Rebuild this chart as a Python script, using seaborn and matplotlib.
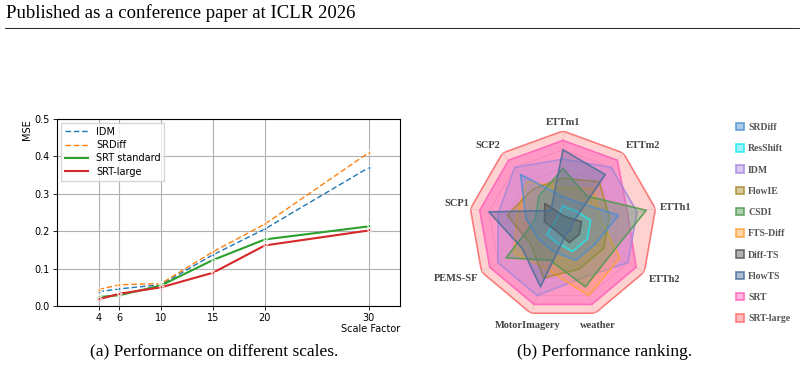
import numpy as np
import pandas as pd
import matplotlib
matplotlib.use("Agg")
import matplotlib.pyplot as plt
from matplotlib.lines import Line2D
from matplotlib.patches import Patch
import seaborn as sns

# ---- data: (a) MSE vs scale factor ----
scales = [4, 6, 10, 15, 20, 30]
mse_idm = [0.038, 0.046, 0.057, 0.137, 0.206, 0.370]
mse_srdiff = [0.044, 0.057, 0.060, 0.145, 0.219, 0.410]
mse_srt = [0.024, 0.029, 0.055, 0.123, 0.178, 0.213]
mse_srt_large = [0.018, 0.033, 0.050, 0.089, 0.162, 0.202]

# ---- data: (b) ranking radar ----
datasets = ['ETTm1', 'ETTm2', 'ETTh1', 'ETTh2', 'weather',
            'MotorImagery', 'PEMS-SF', 'SCP1', 'SCP2']
rank_srdiff = [3, 3, 6, 4, 4, 3, 3, 4, 7]
rank_resshift = [2, 2, 3, 3, 3, 2, 2, 1, 1]
rank_idm = [7, 8, 8, 8, 6, 8, 8, 7, 8]
rank_flowie = [5, 6, 5, 5, 5, 6, 4, 6, 5]
rank_csdi = [6, 4, 9, 6, 7, 4, 7, 3, 4]
rank_ftsdiff = [4, 5, 4, 7, 8, 5, 6, 5, 6]
rank_difftS = [1, 1, 2, 2, 2, 1, 1, 2, 3]
rank_flowts = [8, 7, 1, 1, 1, 7, 5, 8, 2]
rank_srt = [9, 9, 7, 9, 9, 9, 9, 9, 9]
rank_srt_large = [10, 10, 10, 10, 10, 10, 10, 10, 10]

radar_methods = ['SRDiff', 'ResShift', 'IDM', 'FlowIE', 'CSDI',
                 'FTS-Diff', 'Diff-TS', 'FlowTS', 'SRT', 'SRT-large']
radar_ranks = [rank_srdiff, rank_resshift, rank_idm, rank_flowie, rank_csdi,
               rank_ftsdiff, rank_difftS, rank_flowts, rank_srt, rank_srt_large]
radar_colors = ['#4f8fce', '#22e6ee', '#a888dc', '#a88a2e', '#4e9a4e',
                '#ffa23a', '#555555', '#4a6e9a', '#ff5fba', '#ff6b6b']
# drawing order, bottom to top
draw_order = ['SRT-large', 'SRT', 'IDM', 'FTS-Diff', 'FlowIE', 'CSDI',
              'SRDiff', 'ResShift', 'Diff-TS', 'FlowTS']

fig = plt.figure(figsize=(8.04, 3.67), dpi=100)

# header
fig.text(0.008, 0.965, 'Published as a conference paper at ICLR 2026',
         family='Liberation Serif', fontsize=13.5, va='center', ha='left')
fig.add_artist(Line2D([0.006, 0.994], [0.925, 0.925], color='black', lw=0.6))

# ---- (a) line chart ----
ax = fig.add_axes([0.0709, 0.166, 0.4266, 0.510])
df = pd.DataFrame({
    'Scale Factor': scales * 4,
    'MSE': mse_idm + mse_srdiff + mse_srt + mse_srt_large,
    'Method': ['IDM'] * 6 + ['SRDiff'] * 6 + ['SRT standard'] * 6 + ['SRT-large'] * 6,
})
styles = {
    'IDM': ('tab:blue', (4, 2), 1.0),
    'SRDiff': ('tab:orange', (4, 2), 1.0),
    'SRT standard': ('tab:green', '', 1.5),
    'SRT-large': ('tab:red', '', 1.5),
}
for name, (col, dash, lw) in styles.items():
    sub = df[df['Method'] == name]
    sns.lineplot(data=sub, x='Scale Factor', y='MSE', ax=ax, color=col,
                 lw=lw, dashes=False, label=name, marker='*', markersize=4,
                 markeredgewidth=0.5)
    if dash:
        ax.lines[-1].set_dashes(dash)
ax.set_xlim(0, 33)
ax.set_ylim(0, 0.5)
ax.set_xticks(scales)
ax.set_yticks([0.0, 0.1, 0.2, 0.3, 0.4, 0.5])
ax.grid(True, color='#b0b0b0', lw=0.8)
ax.tick_params(labelsize=7, length=3, width=0.6, pad=2)
ax.set_xlabel('Scale Factor', fontsize=7, loc='right', labelpad=1)
ax.set_ylabel('MSE', fontsize=7, loc='top', labelpad=2)
for s in ax.spines.values():
    s.set_linewidth(0.8)
leg = ax.legend(loc='upper left', fontsize=7, handlelength=2.4,
                borderaxespad=0.4, labelspacing=0.35, fancybox=False,
                edgecolor='#cccccc')
for h in leg.get_lines():
    h.set_marker('')

# ---- (b) radar chart ----
rax = fig.add_axes([0.5833, 0.131, 0.2338, 0.512], projection='polar')
n = len(datasets)
angles = np.pi / 2 - np.arange(n) * 2 * np.pi / n
ang_closed = np.append(angles, angles[0])
rax.set_ylim(0, 10)
rax.set_xticks([])
rax.set_yticks([])
rax.grid(False)
rax.spines['polar'].set_visible(False)
# polygon grid
for lvl in [2, 4, 6, 8, 10]:
    rax.plot(ang_closed, [lvl] * (n + 1), color='#cfcfcf', lw=0.5, zorder=0)
for a in angles:
    rax.plot([a, a], [0, 10], color='#d8d8d8', lw=0.4, zorder=0)

alphas = {'SRT': 0.5, 'SRT-large': 0.3, 'Diff-TS': 0.45, 'ResShift': 0.2}
for z, name in enumerate(draw_order):
    i = radar_methods.index(name)
    vals = radar_ranks[i] + [radar_ranks[i][0]]
    col = radar_colors[i]
    rax.fill(ang_closed, vals, color=col, alpha=alphas.get(name, 0.32),
             lw=0, zorder=1 + z)
    rax.plot(ang_closed, vals, color=col, alpha=0.85, lw=1.2, zorder=1 + z)

label_props = dict(family='Liberation Serif', fontweight='bold',
                   fontsize=7.5, color='#444444')
placements = {
    'ETTm1': (10.4, 'center', 'bottom'),
    'ETTm2': (10.4, 'left', 'bottom'),
    'ETTh1': (10.5, 'left', 'center'),
    'ETTh2': (10.6, 'left', 'top'),
    'weather': (10.9, 'center', 'top'),
    'MotorImagery': (10.9, 'center', 'top'),
    'PEMS-SF': (10.4, 'right', 'top'),
    'SCP1': (10.1, 'right', 'bottom'),
    'SCP2': (10.4, 'right', 'bottom'),
}
for a, name in zip(angles, datasets):
    r, ha, va = placements[name]
    rax.text(a, r, name, ha=ha, va=va, **label_props)

handles = [Patch(facecolor=matplotlib.colors.to_rgba(c, 0.45),
                 edgecolor=matplotlib.colors.to_rgba(c, 0.85), lw=1.2)
           for c in radar_colors]
fig.legend(handles, radar_methods, loc='center left',
           bbox_to_anchor=(0.905, 0.392), frameon=False,
           prop=dict(family='Liberation Serif', weight='bold', size=7),
           labelcolor='#555555', handlelength=0.8, handleheight=0.8,
           handletextpad=0.4, labelspacing=1.25)

# captions
cap = dict(family='Liberation Serif', fontsize=12.5, ha='center', va='center')
fig.text(0.266, 0.042, '(a) Performance on different scales.', **cap)
fig.text(0.752, 0.042, '(b) Performance ranking.', **cap)

fig.savefig('out.png', dpi=100)
